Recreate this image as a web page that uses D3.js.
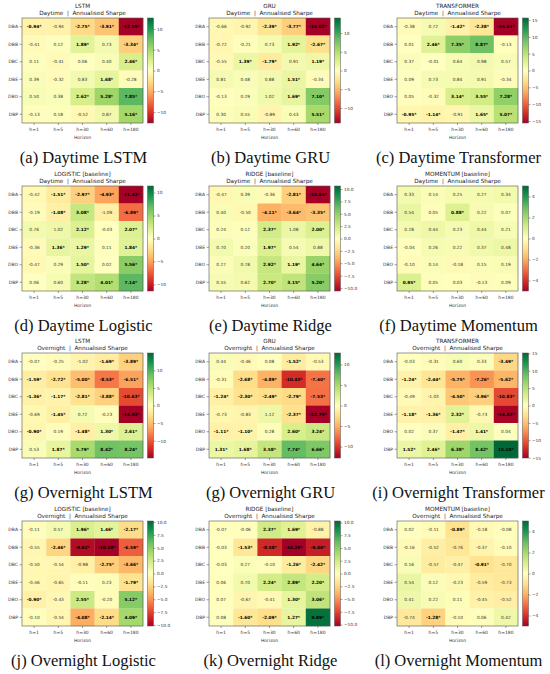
<!DOCTYPE html>
<html>
<head>
<meta charset="utf-8">
<script src="https://cdn.jsdelivr.net/npm/d3@7"></script>
<style>
  body { margin: 0; background: #fff; }
  text { font-family: "DejaVu Sans", sans-serif; }
  .caption { font-family: "Liberation Serif", serif; }
</style>
</head>
<body>
<script>
// rows and columns of every heatmap
var hosts = ["DBA", "DBB", "DBC", "DBE", "DBO", "DBP"];
var horizons = ["h=1", "h=5", "h=30", "h=60", "h=180"];

// Daytime panels (annualised Sharpe), 1 = significant (*)
var dayLstm = [
	[-0.94, -0.94, -2.75, -3.91, -12.59],
	[-0.41, 0.12, 1.89, 0.73, -3.34],
	[0.11, -0.41, 0.06, 0.40, 2.46],
	[0.39, -0.32, 0.83, 1.68, -0.28],
	[0.50, 0.38, 2.62, 5.28, 7.85],
	[-0.13, 0.18, -0.52, 0.87, 5.16]];
var dayLstmSig = [[1,0,1,1,1],[0,0,1,0,1],[0,0,0,0,1],[0,0,0,1,0],[0,0,1,1,1],[0,0,0,0,1]];

var dayGru = [
	[-0.66, -0.92, -2.39, -3.77, -14.02],
	[-0.72, -0.21, 0.73, 1.92, -2.67],
	[-0.55, 1.39, -1.79, 0.91, 1.19],
	[0.81, 0.48, 0.88, 1.51, -0.34],
	[-0.13, 0.29, 1.02, 1.69, 7.10],
	[0.30, 0.55, -0.89, 0.43, 5.51]];
var dayGruSig = [[0,0,1,1,1],[0,0,0,1,1],[0,1,1,0,1],[0,0,0,1,0],[0,0,0,1,1],[0,0,0,0,1]];

var dayTransformer = [
	[-0.38, 0.72, -1.42, -2.38, -15.61],
	[0.01, 2.46, 7.35, 8.87, -0.13],
	[0.37, -0.01, 0.64, 0.98, 0.57],
	[0.09, 0.73, 0.84, 0.91, -0.34],
	[0.05, -0.32, 3.14, 3.55, 7.28],
	[-0.95, -1.14, -0.91, 1.65, 5.07]];
var dayTransformerSig = [[0,0,1,1,1],[0,1,1,1,0],[0,0,0,0,0],[0,0,0,0,0],[0,0,1,1,1],[1,1,0,1,1]];

var dayLogistic = [
	[-0.42, -1.51, -2.97, -4.93, -11.43],
	[-0.19, -1.08, 3.08, -1.09, -6.89],
	[0.76, 1.02, 2.12, -0.03, 2.07],
	[-0.36, 1.36, 1.29, 0.11, 1.84],
	[-0.47, 0.29, 1.50, 0.02, 5.56],
	[0.06, 0.60, 3.28, 4.01, 7.14]];
var dayLogisticSig = [[0,1,1,1,1],[0,1,1,0,1],[0,0,1,0,1],[0,1,1,0,1],[0,0,1,0,1],[0,0,1,1,1]];

var dayRidge = [
	[-0.47, 0.39, -0.36, -2.81, -10.61],
	[0.40, -0.50, -4.11, -3.64, -3.35],
	[0.24, 0.12, 2.37, 1.08, 2.00],
	[0.70, 0.20, 1.97, 0.54, 0.88],
	[0.27, 0.78, 2.92, 1.19, 4.64],
	[0.55, 0.62, 2.70, 3.15, 5.20]];
var dayRidgeSig = [[0,0,0,1,1],[0,0,1,1,1],[0,0,1,0,1],[0,0,1,0,0],[0,0,1,1,1],[0,0,1,1,1]];

var dayMomentum = [
	[0.33, 0.14, 0.25, 0.27, 0.34],
	[0.54, 0.05, 0.88, 0.22, 0.07],
	[0.28, 0.44, 0.23, 0.44, 0.21],
	[-0.04, 0.26, 0.22, 0.37, 0.48],
	[-0.10, 0.14, -0.18, 0.15, 0.19],
	[0.95, 0.05, 0.03, -0.13, 0.09]];
var dayMomentumSig = [[0,0,0,0,0],[0,0,1,0,0],[0,0,0,0,0],[0,0,0,0,0],[0,0,0,0,0],[1,0,0,0,0]];

// Overnight panels
var nightLstm = [
	[-0.07, -0.25, -1.02, -1.69, -3.89],
	[-1.59, -2.72, -5.00, -8.53, -6.51],
	[-1.36, -1.17, -2.81, -3.88, -10.63],
	[-0.69, -1.45, 0.72, -0.23, -14.93],
	[-0.90, 0.19, -1.48, 1.30, 2.61],
	[0.53, 1.87, 5.79, 8.42, 8.24]];
var nightLstmSig = [[0,0,0,1,1],[1,1,1,1,1],[1,1,1,1,1],[0,1,0,0,1],[1,0,1,1,1],[0,1,1,1,1]];

var nightGru = [
	[0.44, -0.46, 0.08, -1.52, -0.53],
	[-0.31, -2.68, -4.89, -10.43, -7.40],
	[-1.24, -2.30, -2.49, -2.79, -7.53],
	[-0.73, -0.83, 1.12, -2.37, -12.79],
	[-1.11, -1.10, 0.28, 2.60, 3.24],
	[1.31, 1.68, 3.58, 7.74, 6.66]];
var nightGruSig = [[0,0,0,1,0],[0,1,1,1,1],[1,1,1,1,1],[0,0,0,1,1],[1,1,0,1,1],[1,1,1,1,1]];

var nightTransformer = [
	[-0.03, -0.31, 0.60, 0.33, -3.49],
	[-1.24, -2.44, -5.75, -7.26, -5.62],
	[-0.49, -1.03, -4.50, -3.96, -10.83],
	[-1.18, -1.36, 2.32, -0.73, -14.83],
	[0.02, 0.37, -1.47, 1.41, 0.04],
	[1.52, 2.46, 6.38, 8.42, 15.10]];
var nightTransformerSig = [[0,0,0,0,1],[1,1,1,1,1],[0,0,1,1,1],[1,1,1,0,1],[0,0,1,1,0],[1,1,1,1,1]];

var nightLogistic = [
	[-0.11, 0.57, 1.96, 1.46, -2.17],
	[-0.55, -2.46, -9.62, -10.18, -6.59],
	[-0.50, -0.54, -0.98, -2.75, -3.66],
	[-0.46, -0.65, -0.11, 0.23, -1.79],
	[-0.90, -0.43, 2.55, -0.20, 5.12],
	[-0.10, -0.54, -4.08, -2.14, 4.09]];
var nightLogisticSig = [[0,0,1,1,1],[0,1,1,1,1],[0,0,0,1,1],[0,0,0,0,1],[1,0,1,0,1],[0,0,1,1,1]];

var nightRidge = [
	[-0.07, -0.06, 2.37, 1.69, -0.88],
	[-0.03, -1.53, -8.58, -10.29, -9.00],
	[-0.03, 0.27, -0.10, -1.26, -2.42],
	[0.06, 0.70, 2.24, 2.89, 2.20],
	[0.07, -0.67, -0.41, 1.30, 3.06],
	[0.08, -1.60, -2.09, 1.27, 9.89]];
var nightRidgeSig = [[0,0,1,1,0],[0,1,1,1,1],[0,0,0,1,1],[0,0,1,1,1],[0,0,0,1,1],[0,1,1,1,1]];

var nightMomentum = [
	[0.02, -0.11, -0.89, -0.18, -0.08],
	[-0.16, -0.52, -0.76, -0.37, -0.10],
	[0.16, -0.57, -0.47, -0.91, -0.70],
	[0.54, 0.12, -0.23, -0.59, -0.73],
	[0.41, 0.22, 0.11, -0.45, -0.52],
	[-0.74, -1.28, -0.10, 0.06, 0.42]];
var nightMomentumSig = [[0,0,1,0,0],[0,0,0,0,0],[0,0,0,1,0],[0,0,0,0,0],[0,0,0,0,0],[0,1,0,0,0]];

// colorbar tick labels
var ticks10 = [-10, -5, 0, 5, 10];
var ticks15 = [-15, -10, -5, 0, 5, 10, 15];
var ticks25 = [-10, -7.5, -5, -2.5, 0, 2.5, 5, 7.5, 10];
var ticks4 = [-4, -2, 0, 2, 4];

var titles = ["LSTM", "GRU", "TRANSFORMER", "LOGISTIC [baseline]", "RIDGE [baseline]", "MOMENTUM [baseline]"];
var captions = ["(a) Daytime LSTM", "(b) Daytime GRU", "(c) Daytime Transformer",
	"(d) Daytime Logistic", "(e) Daytime Ridge", "(f) Daytime Momentum",
	"(g) Overnight LSTM", "(g) Overnight GRU", "(i) Overnight Transformer",
	"(j) Overnight Logistic", "(k) Overnight Ridge", "(l) Overnight Momentum"];

// matplotlib RdYlGn
var rdYlGn = ["#a50026", "#d73027", "#f46d43", "#fdae61", "#fee08b", "#ffffbf",
	"#d9ef8b", "#a6d96a", "#66bd63", "#1a9850", "#006837"];

var panels = [
	{ values: dayLstm, sig: dayLstmSig, title: titles[0], session: "Daytime", ticks: ticks10, dec: 0 },
	{ values: dayGru, sig: dayGruSig, title: titles[1], session: "Daytime", ticks: ticks10, dec: 0 },
	{ values: dayTransformer, sig: dayTransformerSig, title: titles[2], session: "Daytime", ticks: ticks15, dec: 0 },
	{ values: dayLogistic, sig: dayLogisticSig, title: titles[3], session: "Daytime", ticks: ticks10, dec: 0 },
	{ values: dayRidge, sig: dayRidgeSig, title: titles[4], session: "Daytime", ticks: ticks25, dec: 1 },
	{ values: dayMomentum, sig: dayMomentumSig, title: titles[5], session: "Daytime", ticks: ticks4, dec: 0 },
	{ values: nightLstm, sig: nightLstmSig, title: titles[0], session: "Overnight", ticks: ticks10, dec: 0 },
	{ values: nightGru, sig: nightGruSig, title: titles[1], session: "Overnight", ticks: ticks10, dec: 0 },
	{ values: nightTransformer, sig: nightTransformerSig, title: titles[2], session: "Overnight", ticks: ticks15, dec: 0 },
	{ values: nightLogistic, sig: nightLogisticSig, title: titles[3], session: "Overnight", ticks: ticks25, dec: 1 },
	{ values: nightRidge, sig: nightRidgeSig, title: titles[4], session: "Overnight", ticks: ticks25, dec: 1 },
	{ values: nightMomentum, sig: nightMomentumSig, title: titles[5], session: "Overnight", ticks: ticks4, dec: 0 }
];

// layout
var width = 550,
	height = 674;
var colLeft = [22, 209, 397],
	rowTop = [18, 186, 353, 521];
var mapW = 121,
	mapH = 105;

var svg = d3.select("body").append("svg")
	.attr("width", width)
	.attr("height", height);

var defs = svg.append("defs");

panels.forEach(function(p, i) {
	var left = colLeft[i % 3],
		top = rowTop[Math.floor(i / 3)];

	var g = svg.append("g")
		.attr("transform", "translate(" + left + "," + top + ")");

	// symmetric colour range, at least +-5
	var vmax = Math.max(5, d3.max(p.values, function(r) {
		return d3.max(r, function(v) { return Math.abs(v); });
	}));

	var color = d3.scaleLinear()
		.domain(d3.range(11).map(function(k) { return -vmax + k * vmax / 5; }))
		.range(rdYlGn);

	var x = d3.scaleBand().domain(horizons).range([0, mapW]);
	var y = d3.scaleBand().domain(hosts).range([0, mapH]);

	var cells = [];
	p.values.forEach(function(row, r) {
		row.forEach(function(v, c) {
			cells.push({ host: hosts[r], h: horizons[c], v: v, s: p.sig[r][c] });
		});
	});

	g.selectAll("rect.cell")
		.data(cells)
		.enter()
		.append("rect")
		.attr("class", "cell")
		.attr("x", function(d) { return x(d.h); })
		.attr("y", function(d) { return y(d.host); })
		.attr("width", x.bandwidth() + 0.2)
		.attr("height", y.bandwidth() + 0.2)
		.attr("fill", function(d) { return color(d.v); });

	g.selectAll("text.val")
		.data(cells)
		.enter()
		.append("text")
		.attr("class", "val")
		.attr("x", function(d) { return x(d.h) + x.bandwidth() / 2; })
		.attr("y", function(d) { return y(d.host) + y.bandwidth() / 2; })
		.attr("dy", "0.35em")
		.attr("text-anchor", "middle")
		.style("font-size", "4.3px")
		.style("font-weight", function(d) { return d.s ? "bold" : "normal"; })
		.attr("fill", function(d) { return d.s ? "#000" : "#333"; })
		.text(function(d) { return d.v.toFixed(2) + (d.s ? "*" : ""); });

	g.append("rect")
		.attr("width", mapW)
		.attr("height", mapH)
		.attr("fill", "none")
		.attr("stroke", "#555")
		.attr("stroke-width", 0.6);

	// axes
	var xAxis = g.append("g")
		.attr("transform", "translate(0," + mapH + ")")
		.call(d3.axisBottom(x).tickSize(2).tickPadding(3.2));
	var yAxis = g.append("g")
		.call(d3.axisLeft(y).tickSize(2.5).tickPadding(1.5));
	[xAxis, yAxis].forEach(function(a) {
		a.select(".domain").remove();
		a.selectAll("line").attr("stroke", "#444").attr("stroke-width", 0.5);
		a.selectAll("text").attr("fill", "#333").style("font-size", "4.5px").style("font-family", "DejaVu Sans");
	});

	g.append("text")
		.attr("x", mapW / 2)
		.attr("y", mapH + 16)
		.attr("text-anchor", "middle")
		.attr("fill", "#333")
		.style("font-size", "4.5px")
		.text("Horizon");

	// titles
	g.append("text")
		.attr("x", mapW / 2)
		.attr("y", -10.5)
		.attr("text-anchor", "middle")
		.attr("fill", "#222")
		.style("font-size", "5.7px")
		.text(p.title);
	g.append("text")
		.attr("x", mapW / 2)
		.attr("y", -3)
		.attr("text-anchor", "middle")
		.attr("fill", "#222")
		.style("font-size", "5.7px")
		.style("white-space", "pre")
		.text(p.session + "  |  Annualised Sharpe");

	// colorbar
	var gradId = "grad" + i;
	var grad = defs.append("linearGradient")
		.attr("id", gradId)
		.attr("x1", 0).attr("y1", 1).attr("x2", 0).attr("y2", 0);
	rdYlGn.forEach(function(c, k) {
		grad.append("stop").attr("offset", (k * 10) + "%").attr("stop-color", c);
	});

	var cbX = mapW + 4.5,
		cbW = 6;
	var cbScale = d3.scaleLinear().domain([-vmax, vmax]).range([mapH, 0]);

	g.append("rect")
		.attr("x", cbX)
		.attr("width", cbW)
		.attr("height", mapH)
		.attr("fill", "url(#" + gradId + ")")
		.attr("stroke", "#555")
		.attr("stroke-width", 0.5);

	var cbAxis = g.append("g")
		.attr("transform", "translate(" + (cbX + cbW) + ",0)")
		.call(d3.axisRight(cbScale)
			.tickValues(p.ticks)
			.tickSize(2)
			.tickPadding(1.5)
			.tickFormat(d3.format("." + p.dec + "f")));
	cbAxis.select(".domain").remove();
	cbAxis.selectAll("line").attr("stroke", "#444").attr("stroke-width", 0.5);
	cbAxis.selectAll("text").attr("fill", "#333").style("font-size", "4.3px").style("font-family", "DejaVu Sans");

	// caption
	g.append("text")
		.attr("class", "caption")
		.attr("x", mapW / 2 + 1)
		.attr("y", 145)
		.attr("text-anchor", "middle")
		.attr("fill", "#111")
		.style("font-size", "16.5px")
		.text(captions[i]);
});
</script>
</body>
</html>
